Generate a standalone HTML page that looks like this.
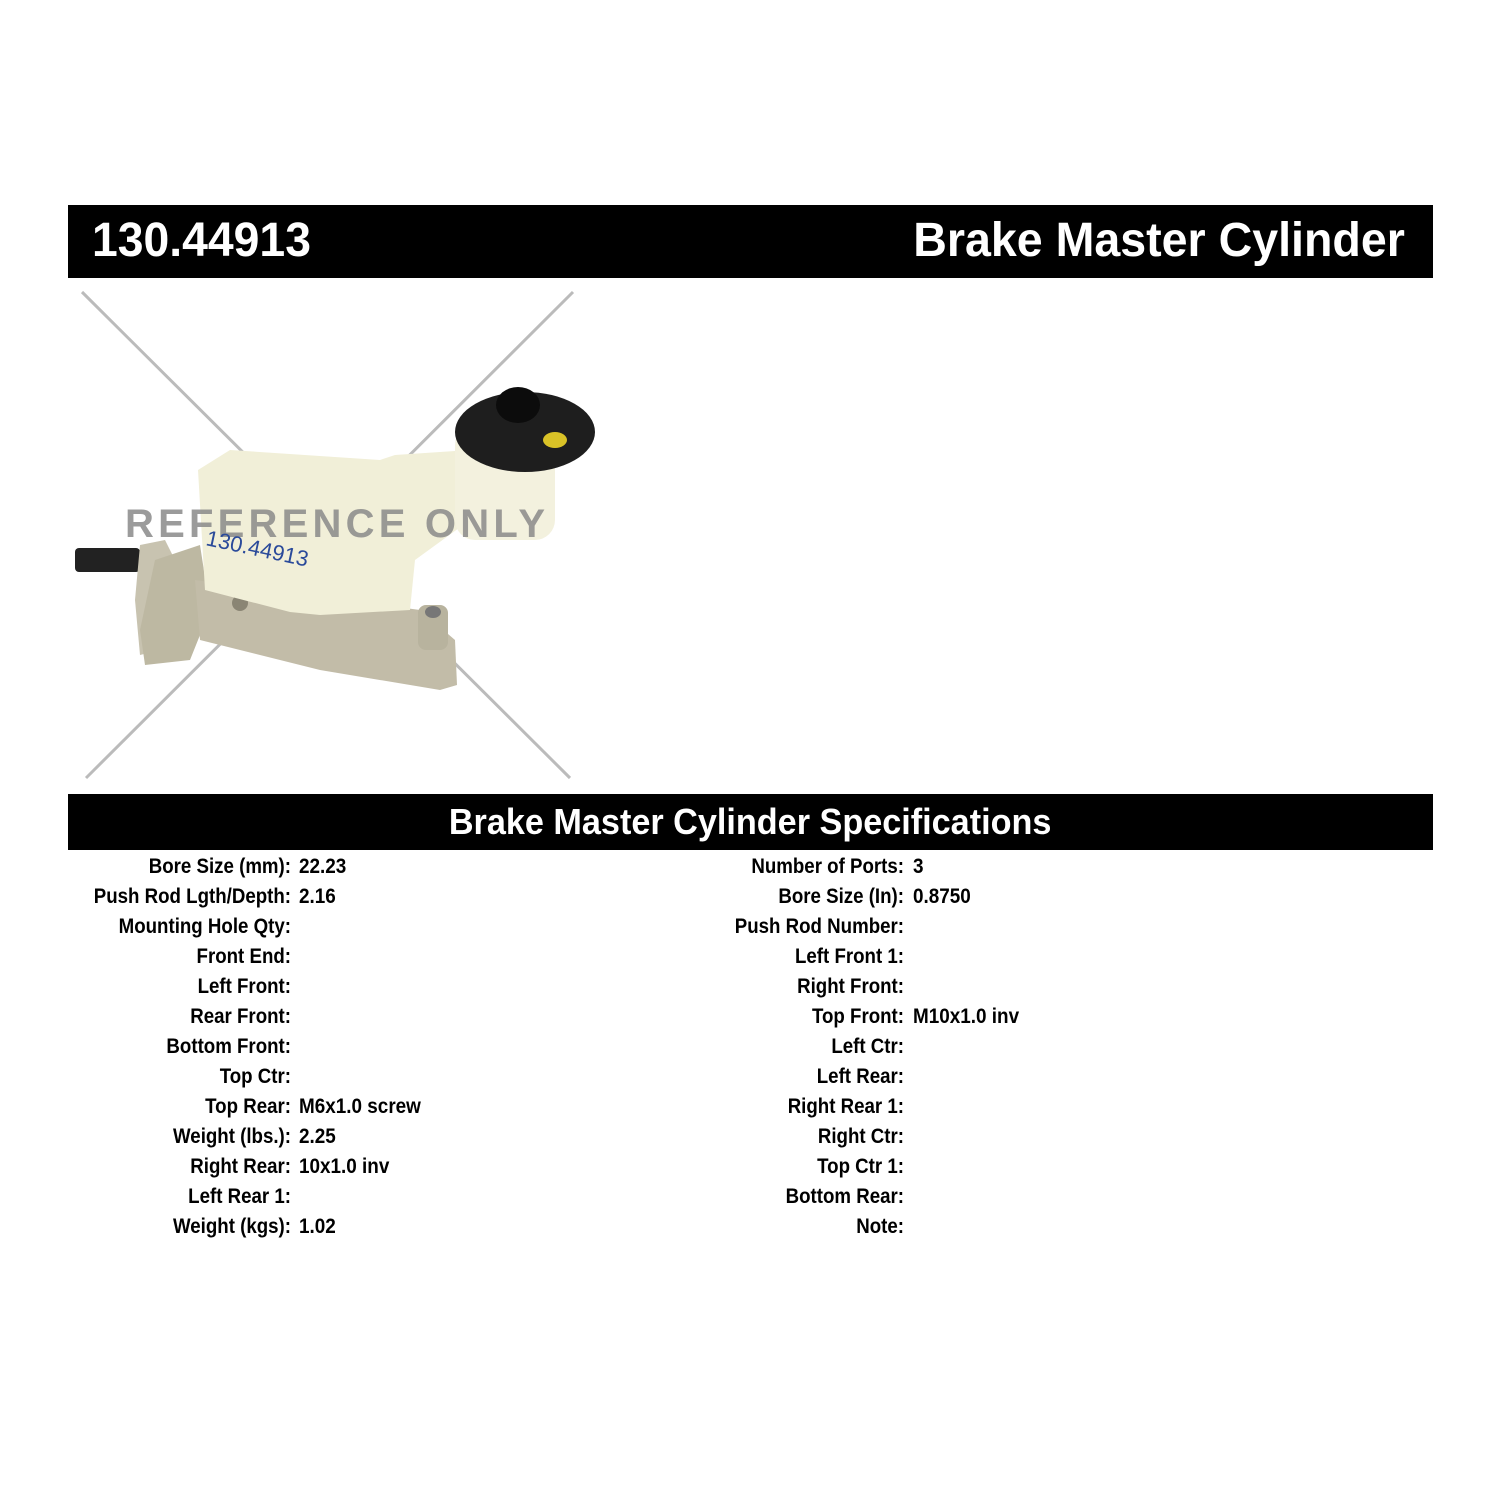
<!DOCTYPE html>
<html><head><meta charset="utf-8"><style>
body{margin:0;background:#fff;width:1500px;height:1500px;position:relative;overflow:hidden;font-family:"Liberation Sans",sans-serif;}
.bar{position:absolute;left:68px;width:1365px;background:#000;color:#fff;font-weight:bold;}
.t{position:absolute;font-weight:bold;font-size:21px;color:#000;white-space:nowrap;line-height:30px;}
.l{text-align:right;transform:scaleX(0.89);transform-origin:right top;}
.v{transform:scaleX(0.9);transform-origin:left top;}
</style></head><body>
<div class="bar" style="top:205px;height:73px;">
<div style="position:absolute;left:24px;top:10px;font-size:48px;line-height:52px;transform:scaleX(0.965);transform-origin:left top;">130.44913</div>
<div style="position:absolute;right:28px;top:10px;font-size:48px;line-height:52px;transform:scaleX(0.97);transform-origin:right top;">Brake Master Cylinder</div>
</div>
<svg style="position:absolute;left:0;top:280px" width="620" height="510" viewBox="0 280 620 510">
<line x1="82" y1="292" x2="570" y2="778" stroke="#bbb" stroke-width="3"/>
<line x1="573" y1="292" x2="86" y2="778" stroke="#bbb" stroke-width="3"/>
<rect x="75" y="548" width="65" height="24" rx="4" fill="#222"/>
<path d="M140 545 L165 540 L175 560 L160 650 L140 655 L135 600Z" fill="#c8c3b0"/>
<path d="M155 560 L200 545 L210 610 L190 660 L145 665 L140 630Z" fill="#bdb8a2"/>
<path d="M195 580 L420 610 L455 640 L457 685 L440 690 L320 670 L200 640Z" fill="#c2bca8"/>
<rect x="418" y="605" width="30" height="45" rx="8" fill="#b8b39e"/>
<ellipse cx="433" cy="612" rx="8" ry="6" fill="#777"/>
<circle cx="240" cy="603" r="8" fill="#8a8574"/>
<path d="M198 470 L230 450 L380 460 L395 455 L470 450 L470 520 L415 560 L410 610 L320 615 L290 612 L205 590Z" fill="#f1efd8"/>
<rect x="455" y="425" width="100" height="115" rx="20" fill="#f3f1de"/>
<ellipse cx="525" cy="432" rx="70" ry="40" fill="#1e1e1e"/>
<ellipse cx="518" cy="405" rx="22" ry="18" fill="#0c0c0c"/>
<ellipse cx="555" cy="440" rx="12" ry="8" fill="#d9c227"/>
<text x="125" y="537" font-family="Liberation Sans" font-weight="bold" font-size="40" fill="#8a8a8a" fill-opacity="0.85" textLength="420">REFERENCE ONLY</text>
<text x="205" y="545" font-family="Liberation Sans" font-size="22" fill="#2a4a9a" transform="rotate(12 205 545)">130.44913</text>
</svg>
<div class="bar" style="top:794px;height:56px;text-align:center;font-size:36px;line-height:56px;"><span style="display:inline-block;transform:scaleX(0.95);">Brake Master Cylinder Specifications</span></div>
<div class="t l" style="left:0;width:291px;top:852px;">Bore Size (mm):<br>Push Rod Lgth/Depth:<br>Mounting Hole Qty:<br>Front End:<br>Left Front:<br>Rear Front:<br>Bottom Front:<br>Top Ctr:<br>Top Rear:<br>Weight (lbs.):<br>Right Rear:<br>Left Rear 1:<br>Weight (kgs):</div>
<div class="t v" style="left:299px;top:852px;">22.23<br>2.16<br>&nbsp;<br>&nbsp;<br>&nbsp;<br>&nbsp;<br>&nbsp;<br>&nbsp;<br>M6x1.0 screw<br>2.25<br>10x1.0 inv<br>&nbsp;<br>1.02</div>
<div class="t l" style="left:500px;width:404px;top:852px;">Number of Ports:<br>Bore Size (In):<br>Push Rod Number:<br>Left Front 1:<br>Right Front:<br>Top Front:<br>Left Ctr:<br>Left Rear:<br>Right Rear 1:<br>Right Ctr:<br>Top Ctr 1:<br>Bottom Rear:<br>Note:</div>
<div class="t v" style="left:913px;top:852px;">3<br>0.8750<br>&nbsp;<br>&nbsp;<br>&nbsp;<br>M10x1.0 inv</div>
</body></html>
